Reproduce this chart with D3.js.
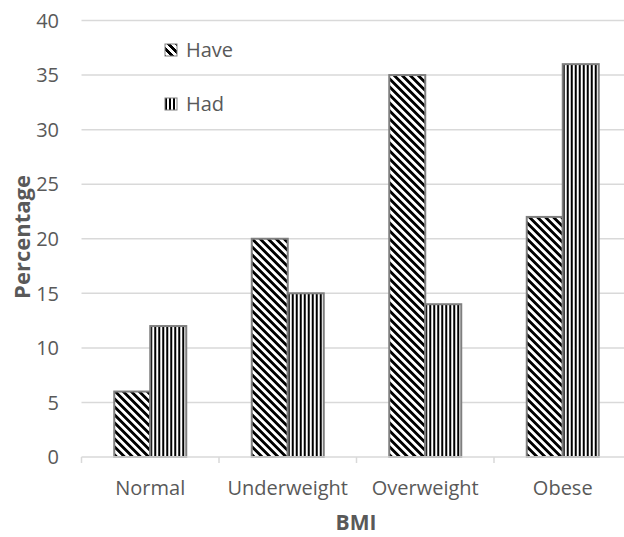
<!DOCTYPE html>
<html>
<head>
<meta charset="utf-8">
<script src="https://cdn.jsdelivr.net/npm/d3@7"></script>
<style>
  body { margin: 0; background: #fff; }
  svg { display: block; }
  text { font-family: "Open Sans", "Liberation Sans", sans-serif; fill: #595959; }
</style>
</head>
<body>
<div id="chart"></div>
<script>
// 数据
const categories = ['Normal', 'Underweight', 'Overweight', 'Obese'];
const seriesNames = ['Have', 'Had'];
const haveValues = [6, 20, 35, 22];
const hadValues = [12, 15, 14, 36];
const yTicks = [0, 5, 10, 15, 20, 25, 30, 35, 40];

const width = 624, height = 537;
const svg = d3.select('#chart').append('svg')
    .attr('width', width)
    .attr('height', height);

// 图案填充
let defs = svg.append('defs');
// wide downward diagonal, 8x8
let diag = defs.append('pattern')
    .attr('id', 'pat-have')
    .attr('patternUnits', 'userSpaceOnUse')
    .attr('width', 8).attr('height', 8);
diag.append('rect').attr('width', 8).attr('height', 8).attr('fill', '#fff');
for (let y = 0; y < 8; y++) {
    for (let k = 0; k < 4; k++) {
        let x = (y + k) % 8;
        diag.append('rect').attr('x', x).attr('y', y).attr('width', 1).attr('height', 1).attr('fill', '#000');
    }
}
// dark vertical, 4px period
let vert = defs.append('pattern')
    .attr('id', 'pat-had')
    .attr('patternUnits', 'userSpaceOnUse')
    .attr('width', 4).attr('height', 4);
vert.append('rect').attr('width', 4).attr('height', 4).attr('fill', '#fff');
vert.append('rect').attr('width', 2).attr('height', 4).attr('fill', '#000');

const fills = {Have: 'url(#pat-have)', Had: 'url(#pat-had)'};

// 比例尺
const x0 = d3.scaleBand()
    .domain(categories)
    .range([81.5, 631.5]);
const barW = 36;
const x1 = d3.scaleBand()
    .domain(seriesNames)
    .range([0, barW * 2]);
const y = d3.scaleLinear()
    .domain([0, 40])
    .range([457, 20.5]);

// 网格线
svg.append('g').attr('class', 'grid')
    .selectAll('line')
    .data(yTicks.slice(1))
    .enter()
    .append('line')
    .attr('x1', 81.5).attr('x2', width)
    .attr('y1', d => y(d)).attr('y2', d => y(d))
    .attr('stroke', '#d9d9d9').attr('stroke-width', 1.5);

// y轴标签
svg.append('g')
    .selectAll('text')
    .data(yTicks)
    .enter()
    .append('text')
    .attr('x', 59)
    .attr('y', d => y(d))
    .attr('dy', '0.36em')
    .attr('text-anchor', 'end')
    .style('font-size', '20px')
    .text(d => d);

// 柱子
const rows = categories.map((c, i) => ({cat: c, Have: haveValues[i], Had: hadValues[i]}));
let groups = svg.append('g').selectAll('g')
    .data(rows)
    .enter()
    .append('g')
    .attr('transform', d => 'translate(' + (x0(d.cat) + (x0.bandwidth() - barW * 2) / 2) + ',0)');
groups.selectAll('rect')
    .data(d => seriesNames.map(s => ({key: s, value: d[s]})))
    .enter()
    .append('rect')
    .attr('x', d => x1(d.key))
    .attr('y', d => y(d.value))
    .attr('width', x1.bandwidth())
    .attr('height', d => y(0) - y(d.value))
    .attr('fill', d => fills[d.key])
    .attr('stroke', '#7f7f7f')
    .attr('stroke-width', 2);

// x轴
let xAxis = svg.append('g');
xAxis.append('line')
    .attr('x1', 81.5).attr('x2', width)
    .attr('y1', y(0)).attr('y2', y(0))
    .attr('stroke', '#d9d9d9').attr('stroke-width', 1.5);
xAxis.selectAll('line.tick')
    .data(categories)
    .enter()
    .append('line')
    .attr('class', 'tick')
    .attr('x1', d => x0(d)).attr('x2', d => x0(d))
    .attr('y1', y(0)).attr('y2', y(0) + 6)
    .attr('stroke', '#d9d9d9').attr('stroke-width', 1.5);
xAxis.selectAll('text')
    .data(categories)
    .enter()
    .append('text')
    .attr('x', d => x0(d) + x0.bandwidth() / 2)
    .attr('y', 488)
    .attr('dy', '0.36em')
    .attr('text-anchor', 'middle')
    .style('font-size', '20px')
    .text(d => d);

// 坐标轴标题
svg.append('text')
    .attr('x', 356).attr('y', 522)
    .attr('dy', '0.36em')
    .attr('text-anchor', 'middle')
    .style('font-size', '21px').style('font-weight', 'bold')
    .text('BMI');
svg.append('text')
    .attr('transform', 'translate(22,237) rotate(-90)')
    .attr('dy', '0.36em')
    .attr('text-anchor', 'middle')
    .style('font-size', '22px').style('font-weight', 'bold')
    .text('Percentage');

// 图例
let legend = svg.append('g').selectAll('g')
    .data(seriesNames)
    .enter()
    .append('g')
    .attr('transform', (d, i) => 'translate(165,' + (50 + i * 54) + ')');
legend.append('rect')
    .attr('x', 0).attr('y', -6)
    .attr('width', 12).attr('height', 12)
    .attr('fill', d => fills[d])
    .attr('stroke', '#808080').attr('stroke-width', 1);
legend.append('text')
    .attr('x', 21).attr('y', 0)
    .attr('dy', '0.36em')
    .style('font-size', '20px')
    .text(d => d);
</script>
</body>
</html>
